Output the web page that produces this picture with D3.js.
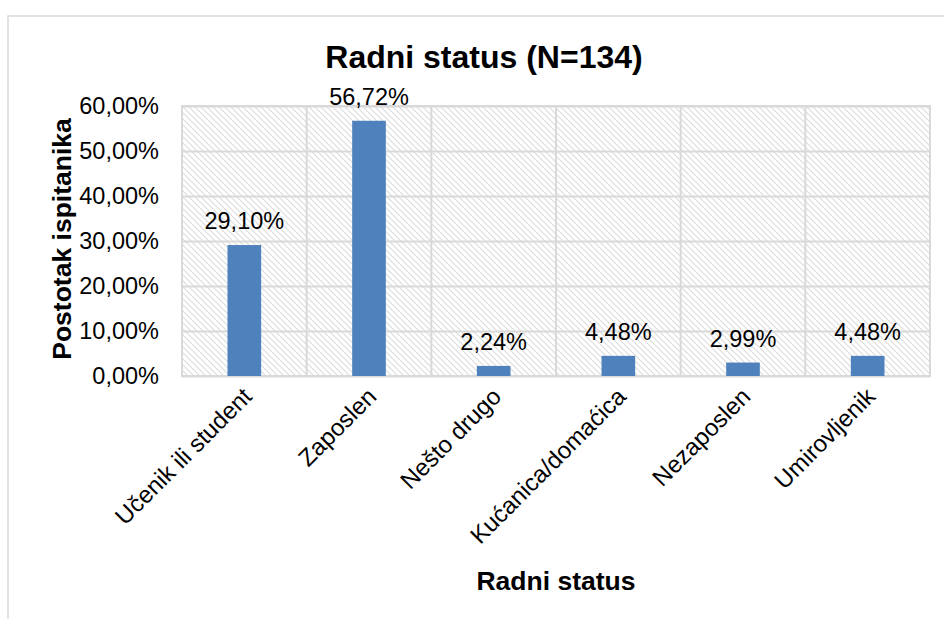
<!DOCTYPE html>
<html>
<head>
  <meta charset="utf-8">
  <script src="https://d3js.org/d3.v7.min.js"></script>
</head>
<style>
  body { margin: 0; background: #fff; }
  svg { display: block; font-family: Arial, "Liberation Sans", sans-serif; }
</style>
<body>
  <svg width="944" height="619"></svg>

  <script>
    // Data
    const categories = ['Učenik ili student', 'Zaposlen', 'Nešto drugo', 'Kućanica/domaćica', 'Nezaposlen', 'Umirovljenik'];
    const values = [29.10, 56.72, 2.24, 4.48, 2.99, 4.48];
    const yTicks = [0, 10, 20, 30, 40, 50, 60];

    const chartTitle = 'Radni status (N=134)';
    const xTitle = 'Radni status';
    const yTitle = 'Postotak ispitanika';

    const fmt = v => v.toFixed(2).replace('.', ',') + '%';

    // Plot area
    const margin = {top: 106, right: 14, bottom: 243, left: 182};
    const width = 944 - margin.left - margin.right;
    const height = 619 - margin.top - margin.bottom;

    const root = d3.select('svg');

    // Hatch pattern for the plot background
    const defs = root.append('defs');
    defs.append('pattern')
      .attr('id', 'hatch')
      .attr('patternUnits', 'userSpaceOnUse')
      .attr('width', 6)
      .attr('height', 6)
      .append('path')
      .attr('d', 'M0,0 L6,6 M-1,5 L1,7 M5,-1 L7,1')
      .attr('stroke', '#dcdcdc')
      .attr('stroke-width', 1.2);

    // Outer chart border (chart is cropped on right and bottom)
    root.append('rect')
      .attr('x', 8)
      .attr('y', 16)
      .attr('width', 1000)
      .attr('height', 700)
      .attr('fill', 'none')
      .attr('stroke', '#d9d9d9')
      .attr('stroke-width', 1.5);

    const svg = root.append('g')
      .attr('transform', `translate(${margin.left},${margin.top})`);

    const x = d3.scaleBand()
      .domain(categories)
      .range([0, width])
      .paddingInner(0)
      .paddingOuter(0);

    const y = d3.scaleLinear()
      .domain([0, 60])
      .range([height, 0]);

    // Background
    svg.append('rect')
      .attr('width', width)
      .attr('height', height)
      .attr('fill', 'url(#hatch)');

    // Horizontal gridlines
    svg.append('g')
      .call(d3.axisLeft(y).tickValues(yTicks).tickSize(-width).tickFormat(''))
      .call(g => g.select('.domain').remove())
      .selectAll('line')
      .attr('stroke', '#d9d9d9')
      .attr('stroke-width', 2);

    // Vertical category separators
    svg.append('g')
      .selectAll('line')
      .data(categories.slice(1))
      .join('line')
      .attr('x1', d => x(d))
      .attr('x2', d => x(d))
      .attr('y1', 0)
      .attr('y2', height)
      .attr('stroke', '#d9d9d9')
      .attr('stroke-width', 2);

    // Plot border
    svg.append('rect')
      .attr('width', width)
      .attr('height', height)
      .attr('fill', 'none')
      .attr('stroke', '#d9d9d9')
      .attr('stroke-width', 2);

    // Bars
    const barW = x.bandwidth() * 0.27;
    svg.selectAll('.bar')
      .data(values)
      .join('rect')
      .attr('class', 'bar')
      .attr('x', (d, i) => x(categories[i]) + x.bandwidth() / 2 - barW / 2)
      .attr('y', d => y(d))
      .attr('width', barW)
      .attr('height', d => height - y(d))
      .attr('fill', '#4f81bd');

    // Data labels
    svg.selectAll('.lbl')
      .data(values)
      .join('text')
      .attr('class', 'lbl')
      .attr('x', (d, i) => x(categories[i]) + x.bandwidth() / 2)
      .attr('y', d => y(d) - 16)
      .attr('text-anchor', 'middle')
      .style('font-size', '23.5px')
      .attr('fill', '#000')
      .text(d => fmt(d));

    // Y axis labels
    svg.append('g')
      .call(d3.axisLeft(y).tickValues(yTicks).tickSize(0).tickPadding(23).tickFormat(d => fmt(d)))
      .call(g => g.select('.domain').remove())
      .selectAll('text')
      .style('font-size', '23.5px')
      .style('font-family', 'Arial, "Liberation Sans", sans-serif')
      .attr('fill', '#000');

    // X axis labels, rotated
    svg.append('g')
      .attr('transform', `translate(0,${height})`)
      .call(d3.axisBottom(x).tickSize(0).tickPadding(0))
      .call(g => g.select('.domain').remove())
      .selectAll('text')
      .style('font-size', '24px')
      .style('font-family', 'Arial, "Liberation Sans", sans-serif')
      .attr('fill', '#000')
      .attr('y', 0)
      .attr('dy', 0)
      .attr('transform', 'translate(9,22) rotate(-45)')
      .style('text-anchor', 'end');

    // Chart title
    root.append('text')
      .attr('x', 484)
      .attr('y', 68)
      .attr('text-anchor', 'middle')
      .style('font-size', '32px')
      .style('font-weight', 'bold')
      .text(chartTitle);

    // X axis title
    root.append('text')
      .attr('x', margin.left + width / 2)
      .attr('y', 590)
      .attr('text-anchor', 'middle')
      .style('font-size', '26.5px')
      .style('font-weight', 'bold')
      .text(xTitle);

    // Y axis title
    root.append('text')
      .attr('transform', `translate(71,${margin.top + height / 2 - 2}) rotate(-90)`)
      .attr('text-anchor', 'middle')
      .style('font-size', '26.5px')
      .style('font-weight', 'bold')
      .text(yTitle);
  </script>
</body>
</html>
